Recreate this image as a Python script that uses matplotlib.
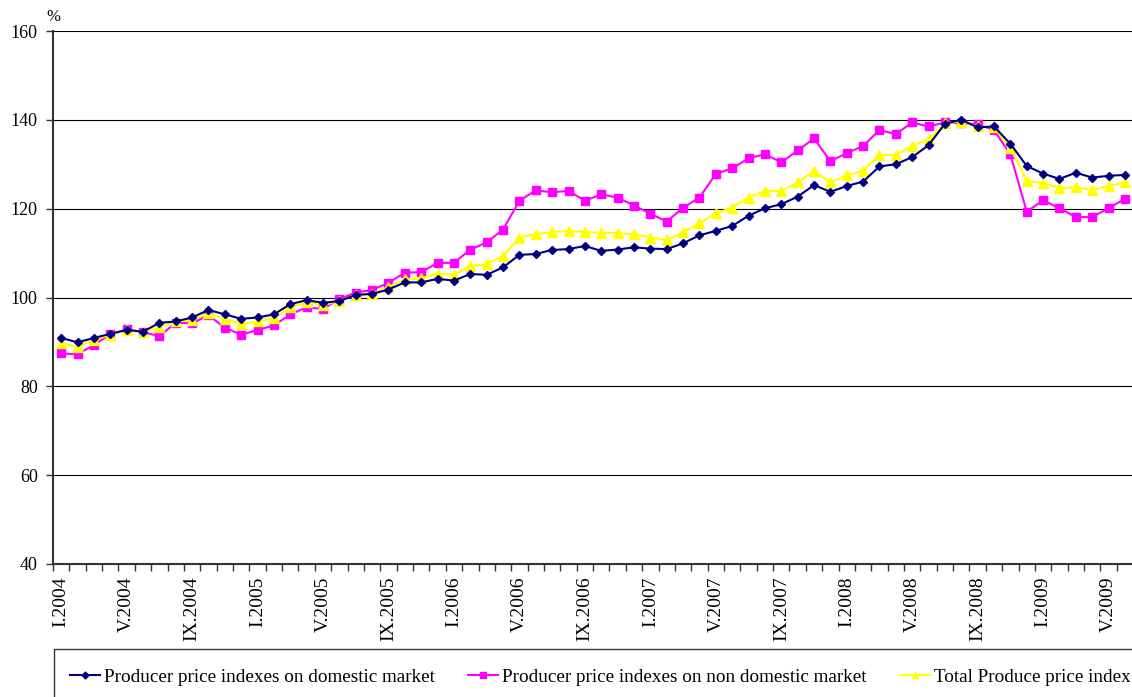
import matplotlib
matplotlib.use("Agg")
import matplotlib.pyplot as plt
from matplotlib.lines import Line2D
from matplotlib.patches import Rectangle

plt.rcParams['font.family'] = ['Liberation Serif', 'DejaVu Serif']

roman = ['I', 'II', 'III', 'IV', 'V', 'VI', 'VII', 'VIII', 'IX', 'X', 'XI', 'XII']
years = [2004, 2005, 2006, 2007, 2008, 2009]
months = [f"{roman[m]}.{y}" for y in years for m in range(12)][:66]

domestic = [90.9, 89.9, 90.9, 91.8, 92.7, 92.3, 94.3, 94.6, 95.5, 97.2,
            96.2, 95.2, 95.5, 96.2, 98.5, 99.4, 98.8, 99.2, 100.6, 100.8,
            101.8, 103.4, 103.4, 104.2, 103.8, 105.3, 105.1, 106.8, 109.6, 109.8,
            110.7, 110.9, 111.6, 110.5, 110.8, 111.3, 111.0, 110.9, 112.2, 114.0,
            115.0, 116.1, 118.4, 120.1, 121.0, 122.7, 125.3, 123.8, 125.1, 126.1,
            129.5, 130.0, 131.6, 134.3, 139.1, 140.0, 138.3, 138.5, 134.6, 129.6,
            127.9, 126.7, 128.1, 127.0, 127.4, 127.6]

non_domestic = [87.4, 87.2, 89.3, 91.7, 92.8, 92.2, 91.3, 94.3, 94.2, 96.0,
                93.2, 91.6, 92.7, 93.7, 96.2, 97.8, 97.4, 99.7, 101.1, 101.7,
                103.3, 105.6, 105.7, 107.8, 107.8, 110.8, 112.4, 115.3, 121.8, 124.1,
                123.7, 124.0, 121.8, 123.2, 122.5, 120.7, 118.9, 117.1, 120.2, 122.5,
                127.8, 129.1, 131.3, 132.3, 130.4, 133.1, 135.8, 130.7, 132.5, 134.1,
                137.7, 136.8, 139.4, 138.5, 139.4, 139.2, 139.0, 137.7, 132.2, 119.3,
                121.9, 120.1, 118.1, 118.1, 120.1, 122.2]

total = [89.7, 88.9, 90.4, 91.6, 92.7, 92.2, 93.3, 94.6, 94.9, 96.4,
         95.2, 94.0, 94.6, 95.3, 97.8, 98.9, 98.3, 99.2, 100.6, 100.8,
         102.4, 104.1, 104.3, 105.4, 105.1, 107.1, 107.5, 109.3, 113.5, 114.3,
         114.7, 115.0, 114.7, 114.6, 114.5, 114.2, 113.5, 112.9, 114.7, 116.7,
         119.0, 120.2, 122.5, 124.0, 124.0, 125.9, 128.5, 125.9, 127.5, 128.5,
         132.1, 132.1, 134.1, 135.6, 139.2, 139.6, 138.5, 138.3, 133.7, 126.2,
         125.8, 124.6, 124.8, 124.2, 125.1, 125.9]

names = ["Producer price indexes on domestic market",
         "Producer price indexes on non domestic market",
         "Total Produce price index"]
y_ticks = [40, 60, 80, 100, 120, 140, 160]

W, H = 1132, 697
fig = plt.figure(figsize=(W / 100, H / 100), dpi=100)
ax = fig.add_axes([53 / W, 1 - 564 / H, 1 - 53 / W + 0.001, (564 - 31) / H])

x = list(range(len(months)))
ax.plot(x, non_domestic, color='#FF00FF', lw=1.5, marker='s', ms=6, zorder=3)
ax.plot(x, total, color='#FFFF00', lw=1.5, marker='^', ms=6.5, zorder=4)
ax.plot(x, domestic, color='#000080', lw=1.5, marker='D', ms=4.5, zorder=5)

ax.set_ylim(40, 160)
ax.set_xlim(-0.5, 64.7)
ax.set_yticks(y_ticks)
ax.yaxis.grid(True, color='black', lw=0.8)
ax.set_axisbelow(True)

ax.set_xticks([i - 0.5 for i in range(len(months) + 1)])
ax.set_xticklabels([])
ax.set_xticks(list(range(0, len(months), 4)), minor=True)
ax.set_xticklabels([months[i] for i in range(0, len(months), 4)], minor=True,
                   rotation=90, va='top', ha='center')
ax.tick_params(axis='x', which='major', direction='out', length=5, width=1, color='#333333')
ax.tick_params(axis='x', which='minor', length=0, pad=9, labelsize=14)
ax.tick_params(axis='y', direction='out', length=5, width=1, color='#333333', pad=6, labelsize=13)

for s in ['top', 'right']:
    ax.spines[s].set_visible(False)
for s in ['left', 'bottom']:
    ax.spines[s].set_color('#333333')
    ax.spines[s].set_linewidth(1.5)

fig.text(46 / W, 1 - 17 / H, '%', fontsize=12, ha='left', va='center')

fig.patches.append(Rectangle((54 / W, -0.05), 1.1, 1 - 649 / H + 0.05,
                             transform=fig.transFigure, fill=False,
                             edgecolor='#333333', lw=1))

handles = [Line2D([], [], color='#000080', lw=1.5, marker='D', ms=3.5),
           Line2D([], [], color='#FF00FF', lw=1.5, marker='s', ms=4.5),
           Line2D([], [], color='#FFFF00', lw=1.5, marker='^', ms=5)]
starts = [70, 468, 900]
for h, n, sx in zip(handles, names, starts):
    fig.legend([h], [n], loc='center left', bbox_to_anchor=(sx / W, 1 - 677 / H),
               frameon=False, fontsize=13.8, handlelength=1.55, handletextpad=0.25,
               borderpad=0, borderaxespad=0)

fig.savefig('out.png', dpi=100)
